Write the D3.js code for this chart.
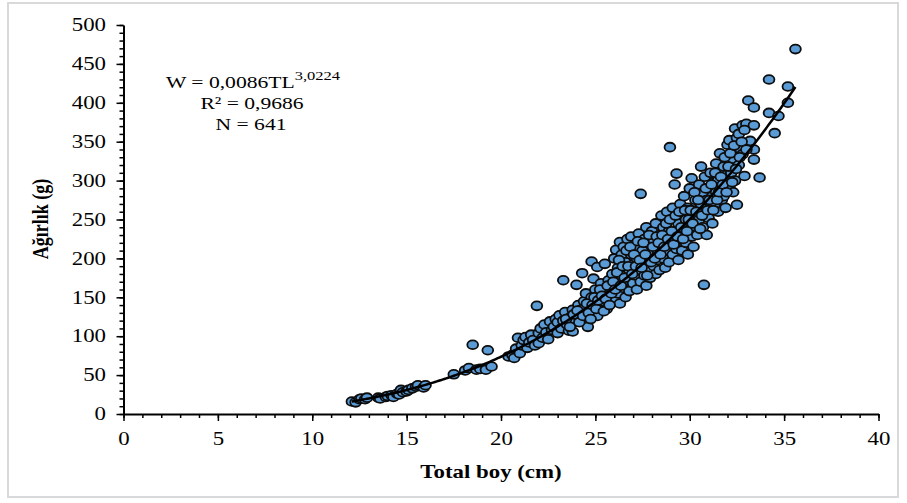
<!DOCTYPE html>
<html>
<head>
<meta charset="utf-8">
<script src="https://cdn.jsdelivr.net/npm/d3@7"></script>
<style>
  body { margin: 0; background: #fff; }
  svg { display: block; }
</style>
</head>
<body>
<svg id="chart" width="907" height="503"></svg>
<script>
// Length–weight measurements: total length (cm) and body weight (g)
const lengthCm = [
  12.1, 12.3, 12.5, 12.6, 12.8, 12.9, 13.5, 13.6, 13.9, 14.0, 14.2, 14.3, 14.5, 14.6, 14.7, 14.8, 15.0, 15.1, 15.3, 15.5, 15.6, 15.9, 16.0,
  17.5, 18.1, 18.3, 18.5, 18.7, 18.9, 19.2, 19.3, 19.5,
  20.4, 20.6, 20.7, 20.8, 20.9, 21.0, 21.1, 21.2, 21.3, 21.4, 21.5, 21.6, 21.7, 21.8, 21.9, 22.0, 22.0, 22.1, 22.2, 22.3, 22.4, 22.5, 22.6, 22.7, 22.8, 22.9,
  23.0, 23.0, 23.1, 23.2, 23.3, 23.3, 23.4, 23.5, 23.6, 23.7, 23.8, 23.8, 23.9, 24.0, 24.0, 24.1, 24.2, 24.3, 24.3, 24.4, 24.5, 24.5, 24.6, 24.7, 24.8, 24.8, 24.9, 24.9,
  25.0, 25.0, 25.1, 25.1, 25.2, 25.3, 25.3, 25.4, 25.5, 25.5, 25.6, 25.7, 25.7, 25.8, 25.9, 25.9,
  26.0, 26.0, 26.1, 26.1, 26.2, 26.2, 26.3, 26.3, 26.4, 26.4, 26.5, 26.5, 26.6, 26.6, 26.7, 26.7, 26.8, 26.8, 26.9, 26.9,
  27.0, 27.0, 27.1, 27.1, 27.2, 27.2, 27.3, 27.3, 27.4, 27.4, 27.5, 27.5, 27.6, 27.6, 27.7, 27.7, 27.8, 27.8, 27.9, 27.9,
  28.0, 28.0, 28.1, 28.1, 28.2, 28.2, 28.3, 28.3, 28.4, 28.4, 28.5, 28.5, 28.6, 28.6, 28.7, 28.7, 28.8, 28.8, 28.9, 28.9, 28.95,
  29.0, 29.0, 29.1, 29.1, 29.2, 29.2, 29.3, 29.3, 29.4, 29.4, 29.5, 29.5, 29.6, 29.6, 29.7, 29.7, 29.8, 29.8, 29.9, 29.9,
  30.0, 30.0, 30.1, 30.1, 30.2, 30.2, 30.3, 30.3, 30.4, 30.4, 30.5, 30.5, 30.6, 30.6, 30.7, 30.7, 30.75, 30.8, 30.8, 30.9, 30.9,
  31.0, 31.0, 31.1, 31.1, 31.2, 31.2, 31.3, 31.3, 31.4, 31.4, 31.5, 31.5, 31.6, 31.6, 31.7, 31.7, 31.8, 31.8, 31.9, 31.9,
  32.0, 32.0, 32.1, 32.1, 32.2, 32.3, 32.3, 32.4, 32.4, 32.5, 32.5, 32.6, 32.7, 32.8, 32.8, 32.9,
  33.0, 33.1, 33.2, 33.4, 33.4, 33.4, 33.4, 33.7, 34.2, 34.2, 34.5, 34.7, 35.2, 35.2, 35.6,
  23.45, 23.65, 23.85, 24.05, 24.15, 24.35, 24.55, 24.65, 24.75, 24.85, 24.95, 25.05, 25.15, 25.25, 25.35, 25.45, 25.55, 25.65, 25.75, 25.85, 25.95,
  26.05, 26.15, 26.25, 26.35, 26.45, 26.55, 26.65, 26.75, 26.85, 26.95,
  27.05, 27.15, 27.25, 27.35, 27.45, 27.55, 27.65, 27.75, 27.85, 27.95,
  28.05, 28.15, 28.25, 28.35, 28.45, 28.55, 28.65, 28.75, 28.85, 28.95,
  29.05, 29.15, 29.25, 29.35, 29.45, 29.55, 29.65, 29.75, 29.85, 29.95,
  30.05, 30.15, 30.25, 30.35, 30.45, 30.55, 30.65, 30.85, 30.95,
  31.05, 31.15, 31.25, 31.35, 31.45, 31.55, 31.65, 31.75, 31.85, 31.95,
  32.05, 32.15, 32.25, 32.35, 32.45, 32.6, 32.65, 32.75, 32.9, 33.0
];
const weightG = [
  16, 15, 19, 20, 19, 21, 21, 20, 22, 23, 24, 22, 26, 25, 31, 28, 29, 31, 33, 35, 37, 34, 37,
  51, 56, 59, 89, 57, 58, 57, 82, 61,
  74, 76, 72, 84, 98, 78, 88, 95, 99, 85, 92, 102, 95, 88, 139, 91, 104, 110, 98, 115, 105, 96, 119, 108, 112, 122,
  104, 118, 127, 110, 172, 120, 131, 115, 107, 125, 106, 134, 118, 166, 128, 140, 122, 181, 135, 145, 128, 155, 112, 138, 196, 150, 174, 132,
  160, 142, 189, 126, 152, 168, 138, 145, 193, 158, 135, 172, 150, 142, 162, 180,
  148, 200, 211, 170, 155, 188, 221, 142, 178, 205, 162, 215, 150, 195, 225, 172, 185, 158, 228, 205,
  168, 192, 215, 178, 160, 200, 232, 185, 283, 170, 210, 195, 225, 178, 165, 240, 200, 186, 218, 175,
  235, 205, 190, 222, 180, 245, 210, 198, 230, 185, 255, 215, 200, 240, 188, 225, 260, 210, 195, 235, 343,
  218, 250, 205, 265, 295, 230, 309, 212, 245, 198, 270, 225, 258, 210, 238, 280, 220, 250, 265, 205,
  240, 290, 303, 228, 255, 215, 275, 245, 262, 230, 295, 250, 318, 270, 240, 285, 166, 260, 305, 275, 230,
  290, 252, 265, 310, 280, 245, 298, 268, 285, 322, 260, 300, 335, 292, 275, 312, 280, 318, 300, 265,
  303, 346, 292, 352, 310, 328, 285, 367, 300, 355, 269, 320, 340, 371, 334, 306,
  373, 403, 351, 394, 371, 340, 327, 304, 430, 387, 361, 383, 421, 400, 469,
  122, 112, 128, 133, 118, 126, 142, 130, 122, 140, 150, 135, 146, 160, 152, 132, 148, 165, 140, 155, 170,
  160, 182, 198, 165, 190, 175, 210, 190, 215, 180,
  205, 190, 222, 198, 188, 220, 205, 178, 230, 195,
  215, 200, 228, 220, 205, 230, 215, 245, 225, 250,
  235, 218, 255, 228, 260, 240, 225, 262, 235, 250,
  262, 245, 285, 260, 275, 238, 255, 290, 262,
  275, 295, 262, 310, 275, 285, 305, 295, 330, 285,
  318, 335, 298, 345, 315, 360, 330, 350, 365, 340
];

// Axis ticks
const xTicks = [0, 5, 10, 15, 20, 25, 30, 35, 40];
const yTicks = [0, 50, 100, 150, 200, 250, 300, 350, 400, 450, 500];

// Power-law fit W = a·TL^b and its statistics
const fitA = 0.0086;
const fitB = 3.0224;
const fitRange = [12.1, 35.6];
const fitLabels = ["W = 0,0086TL", "3,0224", "R² = 0,9686", "N = 641"];

const xTitle = "Total boy (cm)";
const yTitle = "Ağırlık (g)";

// ---------------------------------------------------------------
const SX = 1.27;               // horizontal stretch applied to all text
const FONT = "'Liberation Serif', 'Times New Roman', serif";
const svg = d3.select("#chart");

const x = d3.scaleLinear().domain([0, 40]).range([123.5, 878.5]);
const y = d3.scaleLinear().domain([0, 500]).range([414, 25]);

// outer chart frame
svg.append("rect")
  .attr("x", 8).attr("y", 3).attr("width", 890).attr("height", 494)
  .attr("fill", "none").attr("stroke", "#d9d9d9").attr("stroke-width", 2);

// minor ticks
svg.append("g")
  .attr("transform", `translate(0,${y(0)})`)
  .call(d3.axisBottom(x).tickValues(d3.range(0, 41, 1)).tickSize(4).tickSizeOuter(0).tickFormat(""))
  .call(g => g.select(".domain").remove())
  .call(g => g.selectAll("line").attr("stroke", "#000").attr("stroke-width", 1.5));
svg.append("g")
  .attr("transform", `translate(${x(0)},0)`)
  .call(d3.axisLeft(y).tickValues(d3.range(0, 501, 10)).tickSize(4).tickSizeOuter(0).tickFormat(""))
  .call(g => g.select(".domain").remove())
  .call(g => g.selectAll("line").attr("stroke", "#000").attr("stroke-width", 1.5));

// major axes
const gx = svg.append("g")
  .attr("transform", `translate(0,${y(0)})`)
  .call(d3.axisBottom(x).tickValues(xTicks).tickSize(7).tickSizeOuter(0).tickPadding(11.7));
gx.select(".domain").attr("stroke", "#000").attr("stroke-width", 2);
gx.selectAll("line").attr("stroke", "#000").attr("stroke-width", 1.5);
gx.selectAll("text")
  .attr("font-family", FONT).attr("font-size", 18).attr("fill", "#000")
  .attr("transform", `scale(${SX},1)`);

const gy = svg.append("g")
  .attr("transform", `translate(${x(0)},0)`)
  .call(d3.axisLeft(y).tickValues(yTicks).tickSize(7).tickSizeOuter(0));
gy.select(".domain").attr("stroke", "#000").attr("stroke-width", 2);
gy.selectAll("line").attr("stroke", "#000").attr("stroke-width", 1.5);
gy.selectAll("text")
  .attr("font-family", FONT).attr("font-size", 18).attr("fill", "#000")
  .attr("x", -17.5 / SX)
  .attr("transform", `scale(${SX},1)`);

// scatter points
const points = lengthCm.map((t, i) => [t, weightG[i]]);
svg.append("g")
  .selectAll("ellipse")
  .data(points)
  .join("ellipse")
  .attr("cx", d => x(d[0]))
  .attr("cy", d => y(d[1]))
  .attr("rx", 5.4)
  .attr("ry", 4.4)
  .attr("fill", "#5b9bd5")
  .attr("stroke", "#0d0d0d")
  .attr("stroke-width", 1.8);

// fitted power curve
const curveT = d3.range(fitRange[0], fitRange[1] + 0.001, 0.1);
svg.append("path")
  .datum(curveT.map(t => [t, fitA * Math.pow(t, fitB)]))
  .attr("fill", "none")
  .attr("stroke", "#000")
  .attr("stroke-width", 2.5)
  .attr("d", d3.line().x(d => x(d[0])).y(d => y(d[1])).curve(d3.curveMonotoneX));

// equation block
const eq = svg.append("g")
  .attr("font-family", FONT).attr("font-size", 17).attr("fill", "#000")
  .attr("text-anchor", "middle");
const line1 = eq.append("text").attr("transform", `translate(253,88) scale(${SX},1)`);
line1.append("tspan").text(fitLabels[0]);
line1.append("tspan").attr("dy", -8).attr("font-size", 13).text(fitLabels[1]);
eq.append("text").attr("transform", `translate(252,109) scale(${SX},1)`).text(fitLabels[2]);
eq.append("text").attr("transform", `translate(251,130) scale(${SX},1)`).text(fitLabels[3]);

// axis titles
svg.append("text")
  .attr("transform", `translate(491,478) scale(${SX},1)`)
  .attr("text-anchor", "middle")
  .attr("font-family", FONT).attr("font-size", 18).attr("font-weight", "bold")
  .text(xTitle);
svg.append("text")
  .attr("transform", `translate(48,219) scale(${SX},1) rotate(-90)`)
  .attr("text-anchor", "middle")
  .attr("font-family", FONT).attr("font-size", 18).attr("font-weight", "bold")
  .text(yTitle);
</script>
</body>
</html>
